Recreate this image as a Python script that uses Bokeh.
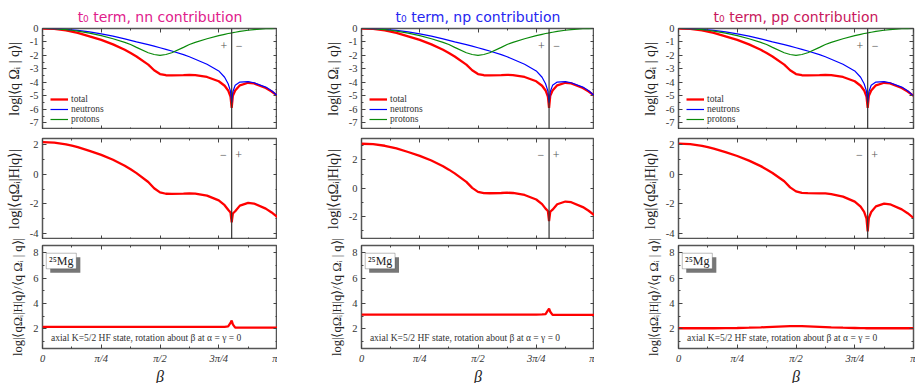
from bokeh.plotting import figure
from bokeh.models import (ColumnDataSource, Span, Label, BoxAnnotation, Legend, LegendItem,
                          FixedTicker, LinearAxis, Range1d)
from bokeh.layouts import gridplot
from bokeh.embed import file_html
from bokeh.resources import INLINE

# ---------------- data ----------------
beta_over_pi = [0, 0.05, 0.1, 0.125, 0.15, 0.2, 0.25, 0.3, 0.35, 0.375, 0.4, 0.45, 0.475, 0.5, 0.525,
                0.55, 0.6, 0.625, 0.65, 0.7, 0.75, 0.775, 0.79, 0.8, 0.805, 0.81, 0.82, 0.84, 0.875,
                0.9, 0.95, 0.975, 1.0]

overlap_total = [0, -0.03, -0.14, -0.23, -0.33, -0.58, -0.85, -1.18, -1.58, -1.82, -2.08, -2.68, -3.1,
                 -3.38, -3.47, -3.48, -3.46, -3.44, -3.46, -3.6, -3.92, -4.25, -4.6, -5.05, -5.9, -5.0,
                 -4.6, -4.22, -4.03, -4.08, -4.42, -4.68, -5.0]
overlap_neutrons = [0, -0.01, -0.06, -0.1, -0.14, -0.25, -0.4, -0.57, -0.77, -0.88, -0.99, -1.2, -1.31,
                    -1.43, -1.55, -1.67, -1.94, -2.1, -2.28, -2.66, -3.15, -3.62, -4.1, -4.65, -5.5, -4.7,
                    -4.22, -3.98, -3.95, -4.03, -4.35, -4.62, -5.0]
overlap_protons = [0, -0.02, -0.08, -0.13, -0.19, -0.34, -0.53, -0.76, -1.03, -1.19, -1.4, -1.8, -1.93,
                   -2.0, -1.93, -1.8, -1.4, -1.19, -1.03, -0.76, -0.53, -0.43, -0.37, -0.34, -0.32, -0.31,
                   -0.28, -0.22, -0.13, -0.08, -0.02, -0.005, 0]

kernel_nn = [2.15, 2.12, 2.01, 1.92, 1.82, 1.57, 1.30, 0.97, 0.57, 0.33, 0.07, -0.53, -0.95, -1.23, -1.32,
             -1.33, -1.31, -1.29, -1.31, -1.45, -1.77, -2.09, -2.4, -2.58, -3.25, -2.65, -2.5, -2.12,
             -1.93, -1.98, -2.32, -2.58, -2.9]
kernel_np = [3.13, 3.10, 2.99, 2.90, 2.80, 2.55, 2.28, 1.95, 1.55, 1.31, 1.05, 0.45, 0.03, -0.25, -0.34,
             -0.35, -0.33, -0.31, -0.33, -0.47, -0.79, -1.11, -1.43, -1.6, -2.3, -1.65, -1.5, -1.12,
             -0.93, -0.98, -1.32, -1.58, -1.9]
kernel_pp = [2.05, 2.02, 1.91, 1.82, 1.72, 1.48, 1.22, 0.91, 0.54, 0.32, 0.08, -0.48, -0.89, -1.16, -1.26,
             -1.28, -1.30, -1.30, -1.34, -1.51, -1.85, -2.19, -2.54, -3.0, -3.85, -2.95, -2.55, -2.17,
             -1.98, -2.03, -2.37, -2.63, -2.95]

ratio_nn = [2.15, 2.15, 2.15, 2.15, 2.15, 2.15, 2.15, 2.15, 2.15, 2.15, 2.15, 2.15, 2.15, 2.15, 2.15,
            2.15, 2.15, 2.15, 2.15, 2.15, 2.15, 2.16, 2.2, 2.47, 2.65, 2.35, 2.1, 2.1, 2.1, 2.1, 2.1,
            2.1, 2.1]
ratio_np = [3.13, 3.13, 3.13, 3.13, 3.13, 3.13, 3.13, 3.13, 3.13, 3.13, 3.13, 3.13, 3.13, 3.13, 3.13,
            3.13, 3.13, 3.13, 3.13, 3.13, 3.13, 3.14, 3.17, 3.45, 3.6, 3.35, 3.1, 3.1, 3.1, 3.1, 3.1,
            3.1, 3.1]
ratio_pp = [2.05, 2.05, 2.05, 2.05, 2.05, 2.06, 2.07, 2.09, 2.12, 2.14, 2.16, 2.2, 2.21, 2.22, 2.21,
            2.2, 2.16, 2.14, 2.12, 2.09, 2.07, 2.06, 2.06, 2.05, 2.05, 2.05, 2.05, 2.05, 2.05, 2.05,
            2.05, 2.05, 2.05]

beta_crossing = 0.805  # sign change of the overlap (in units of pi)

contributions = ["nn", "np", "pp"]
titles = ["t\u2080 term, nn contribution", "t\u2080 term, np contribution", "t\u2080 term, pp contribution"]
title_colors = ["#e0208c", "#2626f0", "#c8185c"]
kernels = [kernel_nn, kernel_np, kernel_pp]
ratios = [ratio_nn, ratio_np, ratio_pp]

x_ticks = [0, 0.25, 0.5, 0.75, 1.0]
x_minor = [0.125, 0.375, 0.625, 0.875]
x_tick_labels = ["0", "\u03c0/4", "\u03c0/2", "3\u03c0/4", "\u03c0"]

y1_ticks = [0, -1, -2, -3, -4, -5, -6, -7]
y1_labels = ["0", "-1", "-2", "-3", "-4", "-5", "-6", "-7"]
y1_minor = [-0.5, -1.5, -2.5, -3.5, -4.5, -5.5, -6.5, -7.5]
y2_ticks = [2, 0, -2, -4]
y2_labels = ["2", "0", "-2", "-4"]
y2_minor = [3, 1, -1, -3]
y3_ticks = [2, 4, 6, 8]
y3_labels = ["2", "4", "6", "8"]
y3_minor = [1, 3, 5, 7]

y1_range = (-7.5, 0)
y2_ranges = [(-4.4, 2.4), (-3.6, 3.5), (-4.4, 2.4)]
y3_range = (0.45, 8.58)

ylabels = ["log|\u27e8q \u03a9\u1d62 | q\u27e9|",
           "log|\u27e8q\u03a9\u1d62|H|q\u27e9|",
           "log|\u27e8q\u03a9\u1d62|H|q\u27e9/\u27e8q \u03a9\u1d62 | q\u27e9|"]

SERIF = "Liberation Serif"
TICK_COL = "#444444"

frame_w = [235, 233, 235]
col_left = [42, 84, 84]
col_right = [0, 0, 2]
frame_h = [101, 101, 103]
row_top = [28, 9, 6]
row_bottom = [0, 0, 35]


def style_axis(ax, ticks, minor, labels=None):
    ax.ticker = FixedTicker(ticks=ticks, minor_ticks=minor)
    ax.major_tick_in = 4
    ax.major_tick_out = 0
    ax.minor_tick_in = 2
    ax.minor_tick_out = 0
    ax.axis_line_color = None
    ax.major_tick_line_color = TICK_COL
    ax.minor_tick_line_color = TICK_COL
    if labels is None:
        ax.major_label_text_color = None
        ax.major_label_text_font_size = "1px"
        ax.major_label_standoff = 0
    else:
        ax.major_label_overrides = {t: l for t, l in zip(ticks, labels)}
        ax.major_label_text_font = SERIF
        ax.major_label_text_font_size = "10.5px"
        ax.major_label_text_color = "#333333"
        ax.major_label_standoff = 4


def make_fig(c, r):
    if r == 0:
        yr = y1_range
    elif r == 1:
        yr = y2_ranges[c]
    else:
        yr = y3_range
    kw = dict(frame_width=frame_w[c], frame_height=frame_h[r], x_range=Range1d(0, 1),
              y_range=Range1d(*yr), output_backend="svg", toolbar_location=None,
              min_border_left=col_left[c], min_border_right=col_right[c],
              min_border_top=row_top[r], min_border_bottom=row_bottom[r])
    if r == 0:
        kw["title"] = titles[c]
    p = figure(**kw)
    p.xgrid.visible = False
    p.ygrid.visible = False
    p.outline_line_color = "#555555"
    p.outline_line_width = 1.5
    p.background_fill_color = "white"
    p.border_fill_color = "white"
    if r == 0:
        p.title.align = "center"
        p.title.offset = -16
        p.title.text_font = "DejaVu Sans"
        p.title.text_font_size = "14px"
        p.title.text_font_style = "normal"
        p.title.text_color = title_colors[c]
        p.title.standoff = 8

    yt = [y1_ticks, y2_ticks, y3_ticks][r]
    yl = [y1_labels, y2_labels, y3_labels][r]
    ym = [y1_minor, y2_minor, y3_minor][r]

    style_axis(p.yaxis[0], yt, ym, yl)
    p.yaxis[0].axis_label = ylabels[r]
    p.yaxis[0].axis_label_text_font = SERIF
    p.yaxis[0].axis_label_text_font_size = ["14px", "14.5px", "12.5px"][r]
    p.yaxis[0].axis_label_text_font_style = "normal"
    p.yaxis[0].axis_label_text_color = "#222222"
    p.yaxis[0].axis_label_standoff = 5

    if r == 2:
        style_axis(p.xaxis[0], x_ticks, x_minor, x_tick_labels)
        p.xaxis[0].major_label_text_font_style = "italic"
        p.xaxis[0].major_label_standoff = 4
        p.xaxis[0].axis_label = "\u03b2"
        p.xaxis[0].axis_label_text_font = SERIF
        p.xaxis[0].axis_label_text_font_size = "16px"
        p.xaxis[0].axis_label_text_font_style = "italic"
        p.xaxis[0].axis_label_text_color = "#222222"
        p.xaxis[0].axis_label_standoff = 1
    else:
        style_axis(p.xaxis[0], x_ticks, x_minor, None)

    ra = LinearAxis()
    style_axis(ra, yt, ym, None)
    p.add_layout(ra, "right")
    ta = LinearAxis()
    style_axis(ta, x_ticks, x_minor, None)
    p.add_layout(ta, "above")
    return p


figs = []
for r in range(3):
    row_figs = []
    for c in range(3):
        p = make_fig(c, r)
        if r == 0:
            src = ColumnDataSource(dict(b=beta_over_pi, tot=overlap_total, neu=overlap_neutrons,
                                        pro=overlap_protons))
            rt = p.line("b", "tot", source=src, color="#ff0000", line_width=2.3)
            rn = p.line("b", "neu", source=src, color="#0000ff", line_width=1.2)
            rp = p.line("b", "pro", source=src, color="#0a8a0a", line_width=1.2)
            leg = Legend(items=[LegendItem(label="total", renderers=[rt]),
                                LegendItem(label="neutrons", renderers=[rn]),
                                LegendItem(label="protons", renderers=[rp])],
                         location=(8, 5), padding=0, margin=0, spacing=0,
                         glyph_width=18, glyph_height=10, label_height=10, label_standoff=3,
                         label_text_font=SERIF, label_text_font_size="9.5px",
                         label_text_color="#333333",
                         background_fill_alpha=0, border_line_color=None)
            p.add_layout(leg)
            p.add_layout(Label(x=0.772, y=-1.33, text="+", text_align="center", text_baseline="middle",
                               text_font=SERIF, text_font_size="12px", text_color="#555555"))
            p.add_layout(Label(x=0.837, y=-1.33, text="\u2212", text_align="center",
                               text_baseline="middle", text_font=SERIF, text_font_size="12px",
                               text_color="#555555"))
        elif r == 1:
            src = ColumnDataSource(dict(b=beta_over_pi, k=kernels[c]))
            p.line("b", "k", source=src, color="#ff0000", line_width=2.3)
            ylab = 2.35 if c == 1 else 1.26
            p.add_layout(Label(x=0.77, y=ylab, text="\u2212", text_align="center", text_baseline="middle",
                               text_font=SERIF, text_font_size="12px", text_color="#555555"))
            p.add_layout(Label(x=0.835, y=ylab, text="+", text_align="center", text_baseline="middle",
                               text_font=SERIF, text_font_size="12px", text_color="#555555"))
        else:
            src = ColumnDataSource(dict(b=beta_over_pi, q=ratios[c]))
            p.line("b", "q", source=src, color="#ff0000", line_width=2.3)
            p.add_layout(BoxAnnotation(left=0.033, right=0.161, top=7.65, bottom=6.42,
                                       fill_color="#777777", fill_alpha=1.0, line_color=None))
            p.add_layout(BoxAnnotation(left=0.016, right=0.144, top=7.97, bottom=6.74,
                                       fill_color="white", fill_alpha=1.0, line_color="#222222",
                                       line_width=1))
            p.add_layout(Label(x=0.08, y=7.33, text="\u00b2\u2075Mg", text_align="center",
                               text_baseline="middle", text_font=SERIF, text_font_size="12px",
                               text_color="#222222"))
            p.add_layout(Label(x=0.036, y=1.26,
                               text="axial K=5/2 HF state, rotation about \u03b2 at \u03b1 = \u03b3 = 0",
                               text_align="left", text_baseline="middle", text_font=SERIF,
                               text_font_size="9.5px", text_color="#333333"))
        if r < 2:
            p.add_layout(Span(location=beta_crossing, dimension="height", line_color="#333333",
                              line_width=1.2))
        row_figs.append(p)
    figs.append(row_figs)

grid = gridplot(figs, toolbar_location=None)
open("out.html", "w").write(file_html(grid, INLINE))
